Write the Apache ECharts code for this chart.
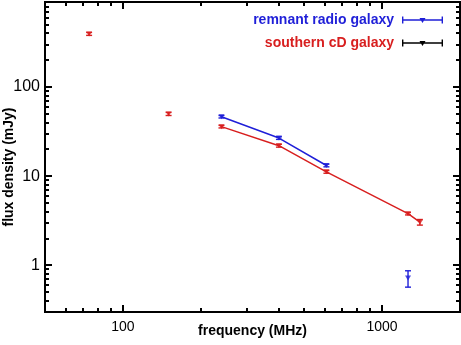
<!DOCTYPE html>
<html>
<head>
<meta charset="utf-8">
<script src="https://cdn.jsdelivr.net/npm/echarts@6/dist/echarts.min.js"></script>
<style>html,body{margin:0;padding:0;background:#fff}#c{width:461px;height:345px}</style>
</head>
<body>
<div id="c"></div>
<script>
// ---- data ----
const redName = 'southern cD galaxy';
const blueName = 'remnant radio galaxy';
const redFreq = [74, 150, 240, 400, 610, 1260, 1400];
const redFlux = [395, 50, 36, 22, 11.2, 3.8, 3.05];
const redErr = [15, 2, 1.2, 0.8, 0.4, 0.12, 0.22];
const redLinked = [false, false, true, true, true, true, true];
const blueFreq = [240, 400, 610, 1260];
const blueFlux = [46.5, 26.8, 13.2, 0.72];
const blueErr = [1.5, 0.9, 0.45, 0.15];
const blueLinked = [true, true, true, false];
const xLabelVals = [100, 1000];
const yLabelVals = [1, 10, 100];
const xMinorVals = [60, 70, 80, 90, 200, 300, 400, 500, 600, 700, 800, 900];
const yMinorVals = [0.4, 0.5, 0.6, 0.7, 0.8, 0.9, 2, 3, 4, 5, 6, 7, 8, 9, 20, 30, 40, 50, 60, 70, 80, 90, 200, 300, 400, 500, 600, 700, 800];
const xMin = 50, xMax = 2000, yMin = 0.3, yMax = 900;

const RED = '#d81f1f', BLUE = '#1f1fd8';
const FONT = '"Liberation Sans", Arial, Helvetica, sans-serif';

const chart = echarts.init(document.getElementById('c'), null, {renderer: 'canvas'});

function linePts(f, v, linked) {
  const out = [];
  for (let i = 0; i < f.length; i++) if (linked[i]) out.push([f[i], v[i]]);
  return out;
}
function pts(f, v) { return f.map((x, i) => [x, v[i]]); }
function errs(f, v, e) { return f.map((x, i) => [x, v[i] - e[i], v[i] + e[i]]); }

function errRender(params, api) {
  const x = api.value(0);
  const lo = api.coord([x, api.value(1)]);
  const hi = api.coord([x, api.value(2)]);
  const w = 3;
  const st = {stroke: api.visual('color'), lineWidth: 1.4};
  return {type: 'group', children: [
    {type: 'line', shape: {x1: lo[0], y1: lo[1], x2: hi[0], y2: hi[1]}, style: st},
    {type: 'line', shape: {x1: lo[0] - w, y1: lo[1], x2: lo[0] + w, y2: lo[1]}, style: st},
    {type: 'line', shape: {x1: hi[0] - w, y1: hi[1], x2: hi[0] + w, y2: hi[1]}, style: st}
  ]};
}

// tick marks (rects) on all four sides, through the axes' scales
const xTickData = xLabelVals.map(v => [v, yMin, 1]).concat(xMinorVals.map(v => [v, yMin, 0]));
const yTickData = yLabelVals.map(v => [xMin, v, 1]).concat(yMinorVals.map(v => [xMin, v, 0]));
function xTickRender(params, api) {
  const v = api.value(0);
  const L = api.value(2) ? 7 : 4;
  const b = api.coord([v, yMin]), t = api.coord([v, yMax]);
  const x = Math.round(b[0]) - 1;
  return {type: 'group', children: [
    {type: 'rect', shape: {x: x, y: b[1] - L, width: 2, height: L}, style: {fill: '#000'}},
    {type: 'rect', shape: {x: x, y: t[1], width: 2, height: L}, style: {fill: '#000'}}
  ]};
}
function yTickRender(params, api) {
  const v = api.value(1);
  const L = api.value(2) ? 7 : 4;
  const l = api.coord([xMin, v]), r = api.coord([xMax, v]);
  const y = Math.round(l[1]) - 1;
  return {type: 'group', children: [
    {type: 'rect', shape: {x: l[0], y: y, width: L, height: 2}, style: {fill: '#000'}},
    {type: 'rect', shape: {x: r[0] - L, y: y, width: L, height: 2}, style: {fill: '#000'}}
  ]};
}

const legendIcon = 'path://M0 0H1.4V2.8H39.6V0H41V7H39.6V4.2H1.4V7H0Z M17.5 1.5H23.5L20.5 6.5Z';
const nameStyle = {fontSize: 14, fontWeight: 'bold', color: '#000', fontFamily: FONT};

chart.setOption({
  animation: false,
  backgroundColor: '#fff',
  textStyle: {fontFamily: FONT},
  grid: {left: 45, right: 1, top: 2, bottom: 33, containLabel: false, outerBoundsMode: 'none', show: false},
  legend: {
    orient: 'vertical', right: 18, top: 13, align: 'right', padding: 0,
    itemWidth: 41, itemHeight: 7, itemGap: 9,
    selectedMode: false,
    itemStyle: {borderWidth: 0},
    textStyle: {fontSize: 14, fontWeight: 'bold', fontFamily: FONT, padding: [0, 3, 0, 0]},
    data: [
      {name: blueName, icon: legendIcon, textStyle: {color: BLUE}},
      {name: redName, icon: legendIcon, textStyle: {color: RED}}
    ]
  },
  xAxis: {
    type: 'log', logBase: 10, min: xMin, max: xMax,
    name: 'frequency (MHz)', nameLocation: 'middle', nameGap: 12, nameMoveOverlap: false, nameTextStyle: nameStyle,
    axisLine: {show: false}, axisTick: {show: false}, splitLine: {show: false}, minorTick: {show: false},
    axisLabel: {customValues: xLabelVals, fontSize: 14, color: '#000', margin: 8, fontFamily: FONT,
                formatter: v => String(Math.round(v))}
  },
  yAxis: {
    type: 'log', logBase: 10, min: yMin, max: yMax,
    name: 'flux density (mJy)', nameLocation: 'middle', nameGap: 29, nameRotate: 90, nameMoveOverlap: false,
    nameTextStyle: Object.assign({padding: [0, 20, 0, 0]}, nameStyle),
    axisLine: {show: false}, axisTick: {show: false}, splitLine: {show: false}, minorTick: {show: false},
    axisLabel: {customValues: yLabelVals, fontSize: 16, color: '#000', margin: 5, fontFamily: FONT,
                formatter: v => String(Math.round(v))}
  },
  series: [
    {type: 'custom', name: redName, data: xTickData, renderItem: xTickRender, itemStyle: {color: '#000'}, silent: true, z: 9},
    {type: 'custom', name: redName, data: yTickData, renderItem: yTickRender, itemStyle: {color: '#000'}, silent: true, z: 9},
    {type: 'line', name: blueName, data: linePts(blueFreq, blueFlux, blueLinked), showSymbol: false, symbol: 'none',
     lineStyle: {color: BLUE, width: 1.5}, itemStyle: {color: BLUE}, z: 2},
    {type: 'line', name: redName, data: linePts(redFreq, redFlux, redLinked), showSymbol: false, symbol: 'none',
     lineStyle: {color: RED, width: 1.5}, itemStyle: {color: RED}, z: 2},
    {type: 'custom', name: blueName, data: errs(blueFreq, blueFlux, blueErr), renderItem: errRender, itemStyle: {color: BLUE}, z: 3},
    {type: 'custom', name: redName, data: errs(redFreq, redFlux, redErr), renderItem: errRender, itemStyle: {color: RED}, z: 3},
    {type: 'scatter', name: blueName, data: pts(blueFreq, blueFlux), symbol: 'triangle', symbolRotate: 180, symbolSize: [6, 5],
     itemStyle: {color: BLUE}, z: 4},
    {type: 'scatter', name: redName, data: pts(redFreq, redFlux), symbol: 'triangle', symbolRotate: 180, symbolSize: [6, 5],
     itemStyle: {color: RED}, z: 4}
  ]
});

// 2px frame around the plot area, placed through the chart's scales
(function addFrame() {
  const px = (x, y) => chart.convertToPixel({gridIndex: 0}, [x, y]);
  const bl = px(xMin, yMin), tr = px(xMax, yMax);
  chart.setOption({graphic: {elements: [
    {type: 'rect', shape: {x: bl[0], y: tr[1], width: tr[0] - bl[0], height: bl[1] - tr[1]},
     style: {fill: null, stroke: '#000', lineWidth: 2}, z: 100, silent: true}
  ]}});
})();
</script>
</body>
</html>
